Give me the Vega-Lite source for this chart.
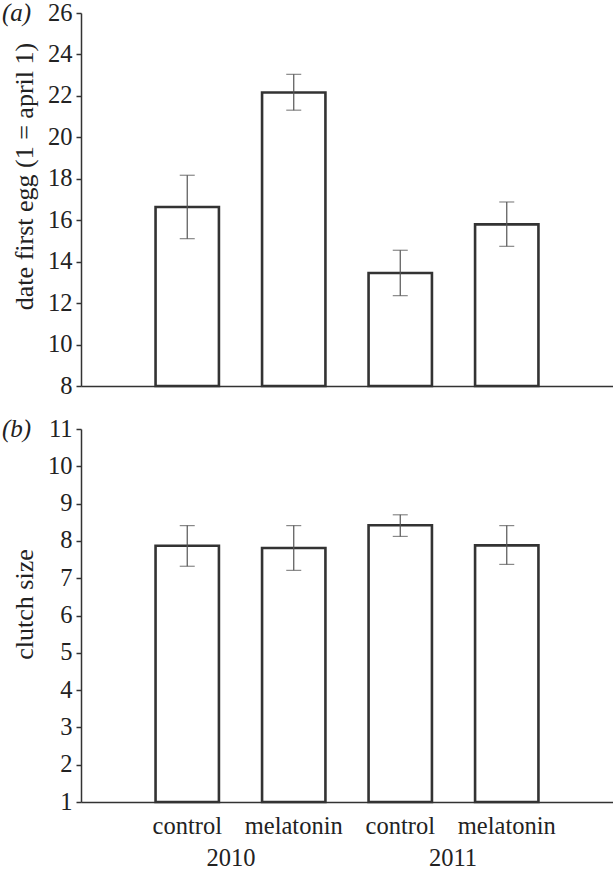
{
  "$schema": "https://vega.github.io/schema/vega-lite/v6.json",
  "padding": {"left": 2, "top": 0, "right": 1, "bottom": 0},
  "config": {
    "view": {"stroke": null},
    "font": "Liberation Serif",
    "axis": {"labelFont": "Liberation Serif", "labelFontSize": 24.5, "labelColor": "#222", "titleFont": "Liberation Serif", "titleFontSize": 26, "titleFontWeight": "normal", "titleColor": "#222", "domainColor": "#333", "domainWidth": 1.5, "tickColor": "#333", "tickWidth": 1.5, "tickSize": 5, "grid": false, "labelOverlap": false, "labelAngle": 0},
    "title": {"font": "Liberation Serif", "fontSize": 25, "fontWeight": "normal", "fontStyle": "italic", "color": "#222"},
    "concat": {"spacing": 18}
  },
  "datasets": {
    "egg": [
      {"group": "2010 control", "year": "2010", "mean": 16.64, "lo": 15.11, "hi": 18.17},
      {"group": "2010 melatonin", "year": "2010", "mean": 22.16, "lo": 21.31, "hi": 23.04},
      {"group": "2011 control", "year": "2011", "mean": 13.45, "lo": 12.36, "hi": 14.55},
      {"group": "2011 melatonin", "year": "2011", "mean": 15.80, "lo": 14.74, "hi": 16.88}
    ],
    "clutch": [
      {"group": "2010 control", "year": "2010", "mean": 7.87, "lo": 7.32, "hi": 8.41},
      {"group": "2010 melatonin", "year": "2010", "mean": 7.81, "lo": 7.21, "hi": 8.41},
      {"group": "2011 control", "year": "2011", "mean": 8.42, "lo": 8.12, "hi": 8.70},
      {"group": "2011 melatonin", "year": "2011", "mean": 7.88, "lo": 7.37, "hi": 8.41}
    ]
  },
  "vconcat": [
    {
      "width": 532,
      "height": 373,
      "title": {"text": "(a)", "anchor": "start", "frame": "bounds", "offset": 0, "dx": -9.5, "dy": 25.5},
      "data": {"name": "egg"},
      "encoding": {
        "x": {"field": "group", "type": "nominal", "sort": null, "scale": {"paddingInner": 0.405, "paddingOuter": 0.7}, "axis": {"title": null, "labels": false, "ticks": false, "domainWidth": 1.5}}
      },
      "layer": [
        {
          "mark": {"type": "bar", "fill": "white", "stroke": "#333", "strokeWidth": 2.6},
          "encoding": {
            "y": {"field": "mean", "type": "quantitative", "scale": {"domain": [8, 26], "zero": false, "nice": false}, "axis": {"values": [8, 10, 12, 14, 16, 18, 20, 22, 24, 26], "labelOverlap": false, "title": "date first egg (1 = april 1)", "titlePadding": 10, "titleY": 163, "labelPadding": 4}},
            "y2": {"datum": 8}
          }
        },
        {
          "mark": {"type": "rule", "stroke": "#555", "strokeWidth": 1.2},
          "encoding": {"y": {"field": "lo", "type": "quantitative"}, "y2": {"field": "hi"}}
        },
        {
          "mark": {"type": "tick", "color": "#555", "thickness": 1.2, "size": 15},
          "encoding": {"y": {"field": "lo", "type": "quantitative"}}
        },
        {
          "mark": {"type": "tick", "color": "#555", "thickness": 1.2, "size": 15},
          "encoding": {"y": {"field": "hi", "type": "quantitative"}}
        }
      ]
    },
    {
      "width": 532,
      "height": 373,
      "title": {"text": "(b)", "anchor": "start", "frame": "bounds", "offset": 0, "dx": -9.5, "dy": 25.5},
      "data": {"name": "clutch"},
      "resolve": {"scale": {"x": "independent"}},
      "layer": [
        {
          "encoding": {
            "x": {"field": "group", "type": "nominal", "sort": null, "scale": {"paddingInner": 0.405, "paddingOuter": 0.7}, "axis": {"title": null, "ticks": false, "labelPadding": 12, "labelExpr": "split(datum.label, ' ')[1]"}}
          },
          "layer": [
            {
              "mark": {"type": "bar", "fill": "white", "stroke": "#333", "strokeWidth": 2.6},
              "encoding": {
                "y": {"field": "mean", "type": "quantitative", "scale": {"domain": [1, 11], "zero": false, "nice": false}, "axis": {"values": [1, 2, 3, 4, 5, 6, 7, 8, 9, 10, 11], "tickCount": 11, "labelOverlap": false, "title": "clutch size", "titlePadding": 10, "titleY": 175, "labelPadding": 4}},
                "y2": {"datum": 1}
              }
            },
            {
              "mark": {"type": "rule", "stroke": "#555", "strokeWidth": 1.2},
              "encoding": {"y": {"field": "lo", "type": "quantitative"}, "y2": {"field": "hi"}}
            },
            {
              "mark": {"type": "tick", "color": "#555", "thickness": 1.2, "size": 15},
              "encoding": {"y": {"field": "lo", "type": "quantitative"}}
            },
            {
              "mark": {"type": "tick", "color": "#555", "thickness": 1.2, "size": 15},
              "encoding": {"y": {"field": "hi", "type": "quantitative"}}
            }
          ]
        },
        {
          "mark": {"type": "rule", "opacity": 0},
          "encoding": {
            "x": {"field": "year", "type": "nominal", "scale": {"paddingInner": 0, "paddingOuter": 0.198, "align": 0.443}, "axis": {"orient": "bottom", "title": null, "ticks": false, "domain": false, "labelPadding": 44}}
          }
        }
      ]
    }
  ]
}
